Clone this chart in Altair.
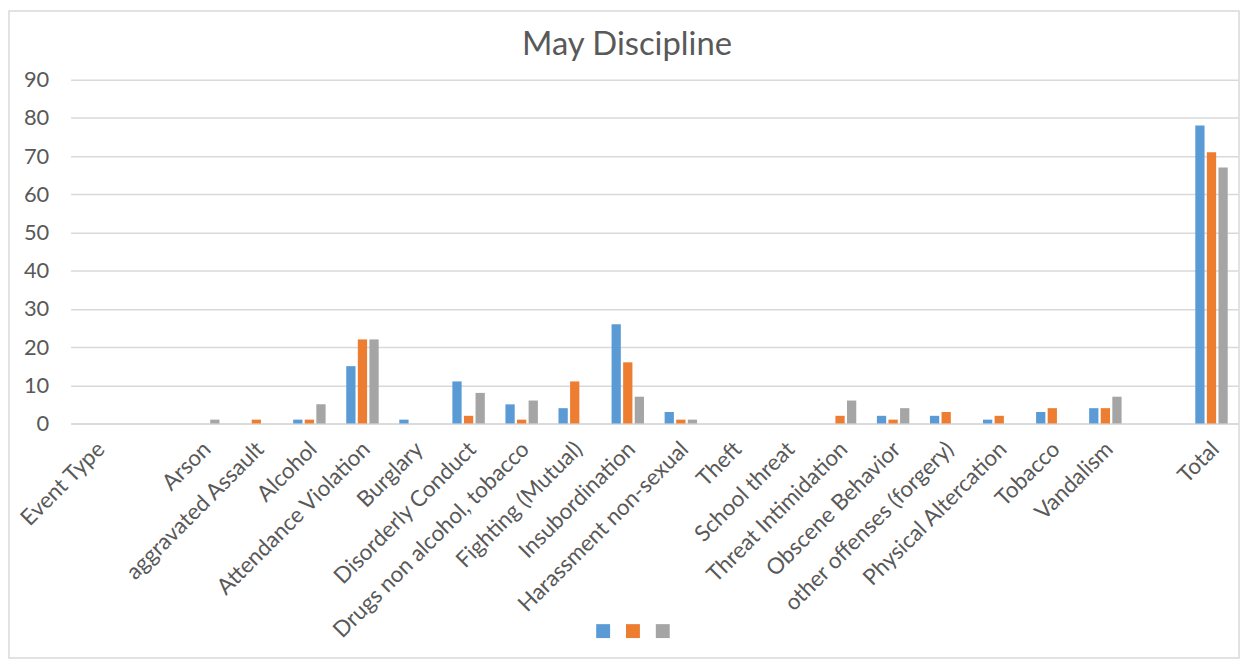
import altair as alt
import pandas as pd

categories = ["Event Type", " ", "Arson", "aggravated Assault", "Alcohol",
              "Attendance Violation", "Burglary", "Disorderly Conduct",
              "Drugs non alcohol, tobacco", "Fighting (Mutual)", "Insubordination",
              "Harassment non-sexual", "Theft", "School threat", "Threat Intimidation",
              "Obscene Behavior", "other offenses (forgery)", "Physical Altercation",
              "Tobacco", "Vandalism", "  ", "Total"]
series1 = [0, 0, 0, 0, 1, 15, 1, 11, 5, 4, 26, 3, 0, 0, 0, 2, 2, 1, 3, 4, 0, 78]
series2 = [0, 0, 0, 1, 1, 22, 0, 2, 1, 11, 16, 1, 0, 0, 2, 1, 3, 2, 4, 4, 0, 71]
series3 = [0, 0, 1, 0, 5, 22, 0, 8, 6, 0, 7, 1, 0, 0, 6, 4, 0, 0, 0, 7, 0, 67]
series_names = ["Series1", "Series2", "Series3"]
colors = ["#5B9BD5", "#ED7D31", "#A5A5A5"]
y_ticks = [0, 10, 20, 30, 40, 50, 60, 70, 80, 90]
chart_title = "May Discipline"

rows = []
for name, vals in zip(series_names, [series1, series2, series3]):
    for c, v in zip(categories, vals):
        rows.append({"category": c, "series": name, "value": v})
df = pd.DataFrame(rows)

FONT = "Lato"
GREY = "#595959"

bars = alt.Chart(df).mark_bar().encode(
    x=alt.X("category:N", sort=categories, title=None,
            scale=alt.Scale(paddingInner=0.345, paddingOuter=0.1725),
            axis=alt.Axis(labelAngle=-45, labelAlign="right", labelBaseline="middle",
                          labelFontSize=22.5, labelColor=GREY, labelFont=FONT,
                          ticks=False, domainColor="#D9D9D9", domainWidth=1.5,
                          labelPadding=22, labelOffset=4, labelOverlap=False,
                          grid=False, labelLimit=400)),
    xOffset=alt.XOffset("series:N", sort=series_names,
                        scale=alt.Scale(paddingInner=0.2, paddingOuter=0.1)),
    y=alt.Y("value:Q", title=None,
            scale=alt.Scale(domain=[0, 90], nice=False),
            axis=alt.Axis(values=y_ticks, labelFontSize=22, labelColor=GREY,
                          labelFont=FONT, ticks=False, domain=False,
                          gridColor="#D9D9D9", gridWidth=1.5, labelPadding=22)),
    color=alt.Color("series:N", sort=series_names,
                    scale=alt.Scale(domain=series_names, range=colors),
                    legend=alt.Legend(orient="none", legendX=529, legendY=548,
                                      direction="horizontal", title=None,
                                      labelExpr="''", symbolType="square",
                                      symbolSize=196, symbolStrokeWidth=0,
                                      labelOffset=0, columnPadding=16, padding=0)),
)

one = pd.DataFrame({"t": [chart_title]})

border = alt.Chart(one).mark_rect(
    fill=None, stroke="#D9D9D9", strokeWidth=1.5
).encode(x=alt.value(-62), x2=alt.value(1176), y=alt.value(-69), y2=alt.value(582))

title = alt.Chart(one).mark_text(
    font=FONT, fontSize=33, color=GREY, align="center", baseline="alphabetic"
).encode(text="t:N", x=alt.value(560), y=alt.value(-25))

chart = alt.layer(border, title, bars).properties(
    width=1175, height=346,
    padding={"left": 63, "top": 70, "right": 6, "bottom": 245},
    autosize=alt.AutoSizeParams(type="none"),
).configure_view(stroke=None)

chart.save("out.html", embed_options={"renderer": "svg", "actions": False})
